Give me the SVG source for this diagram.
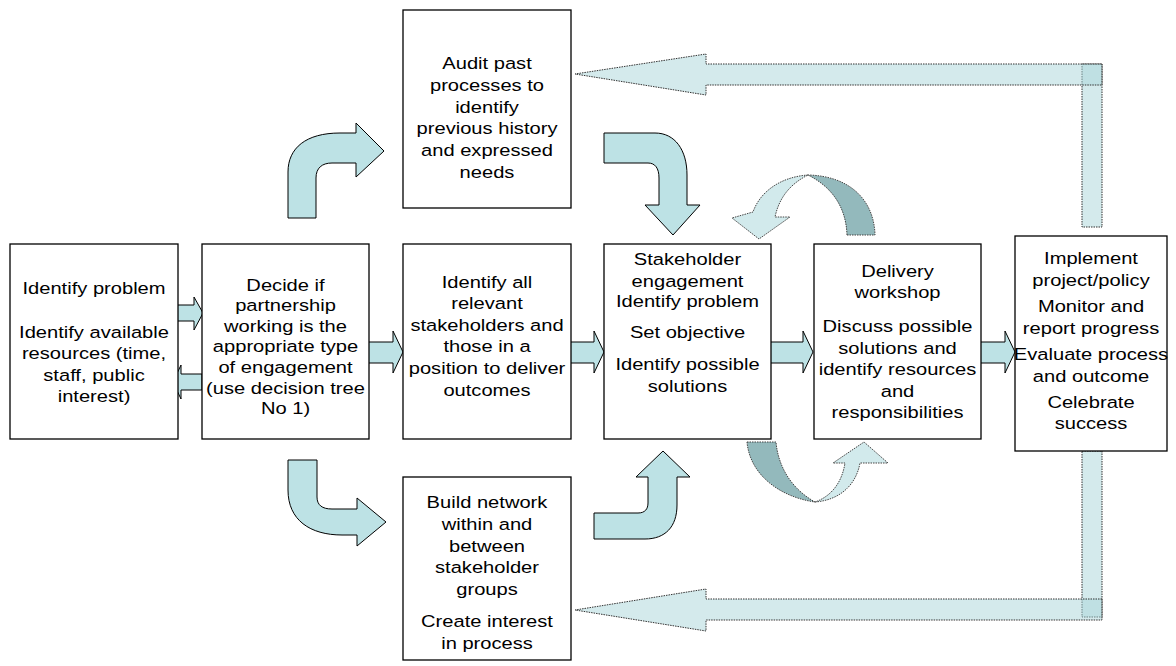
<svg xmlns="http://www.w3.org/2000/svg" width="1176" height="666" viewBox="0 0 1176 666">
<style>
.box{fill:#fff;stroke:#000;stroke-width:1.3}
.t{font-family:"Liberation Sans",Arial,sans-serif;font-size:16.5px;fill:#000;text-anchor:middle}
.arr{fill:#bde2e5;stroke:#000;stroke-width:1;stroke-linejoin:miter}
.long{fill:#a9d6da;fill-opacity:0.5;stroke:#333;stroke-width:1;stroke-dasharray:1.5 1}
.cl{fill:#d2eaec;stroke:#444;stroke-width:1;stroke-dasharray:1.5 1}
.cd{fill:#93b9bc;stroke:#444;stroke-width:1;stroke-dasharray:1.5 1}
</style>
<rect width="1176" height="666" fill="#fff"/>
<g id="connectors">
  <rect class="long" x="1082" y="64" width="20" height="163"/>
  <path class="long" d="M1102,64 L706,64 L706,54 L575,74 L706,95 L706,85 L1102,85 Z"/>
  <rect class="long" x="1082" y="451" width="20" height="166"/>
  <path class="long" d="M1102,599 L706,599 L706,589 L575,610 L706,631 L706,620 L1102,620 Z"/>
  <path class="arr" d="M288,218 L288,172 C288,148 306,133 340,133 L356,133 L356,123 L384,151 L356,177 L356,163 L332,163 C322,163 316,168 316,178 L316,218 Z"/>
  <path class="arr" d="M288,460 L317,460 L317,497 C317,505 322,509 332,509 L357,509 L357,498 L386,522 L357,546 L357,535 L342,535 C310,535 288,520 288,490 Z"/>
  <path class="arr" d="M604,133 L655,133 C675,133 687,150 687,175 L687,205 L700,205 L673,235 L645,205 L659,205 L659,178 C659,168 655,163 648,163 L604,163 Z"/>
  <path class="arr" d="M594,539 L645,539 C665,539 677,527 677,505 L677,477 L690,477 L663,451 L636,477 L648,477 L648,503 C648,509 645,513 638,513 L594,513 Z"/>
  <path class="arr" d="M173,305 L194,305 L194,297 L203,313 L194,330 L194,321 L173,321 Z"/>
  <path class="arr" d="M202,374 L181,374 L181,365 L173,382 L181,399 L181,390 L202,390 Z"/>
  <path class="arr" d="M364,342 L393,342 L393,331 L403,352 L393,373 L393,363 L364,363 Z"/>
  <path class="arr" d="M566,342 L594,342 L594,331 L604,352 L594,373 L594,363 L566,363 Z"/>
  <path class="arr" d="M766,342 L803,342 L803,331 L813,352 L803,373 L803,363 L766,363 Z"/>
  <path class="arr" d="M976,342 L1005,342 L1005,331 L1015,352 L1005,373 L1005,363 L976,363 Z"/>
  <path class="cd" d="M847,235 L875,235 C874,200 850,176 808,175 C830,186 846,205 847,235 Z"/>
  <path class="cl" d="M808,175 C780,177 760,192 753,212 L732,218 L759,239 L790,217 L775,217 C779,198 790,184 808,175 Z"/>
  <path class="cd" d="M747,442 L776,442 C778,465 790,488 815,502 C780,497 750,475 747,442 Z"/>
  <path class="cl" d="M815,502 C840,500 856,485 860,463 L888,463 L864,442 L833,463 L845,463 C842,482 832,496 815,502 Z"/>
</g>
<g id="n1"><rect class="box" x="10" y="244" width="168" height="195"/>
<text class="t" transform="translate(94 0) scale(1.22 1)"><tspan x="0" y="294">Identify problem</tspan><tspan x="0" y="338">Identify available</tspan><tspan x="0" y="359">resources (time,</tspan><tspan x="0" y="381">staff, public</tspan><tspan x="0" y="402">interest)</tspan></text></g>
<g id="n2"><rect class="box" x="202" y="244" width="167" height="195"/>
<text class="t" transform="translate(285.5 0) scale(1.22 1)"><tspan x="0" y="291">Decide if</tspan><tspan x="0" y="311">partnership</tspan><tspan x="0" y="332">working is the</tspan><tspan x="0" y="352">appropriate type</tspan><tspan x="0" y="373">of engagement</tspan><tspan x="0" y="394">(use decision tree</tspan><tspan x="0" y="414">No 1)</tspan></text></g>
<g id="n3"><rect class="box" x="403" y="244" width="168" height="195"/>
<text class="t" transform="translate(487 0) scale(1.22 1)"><tspan x="0" y="288">Identify all</tspan><tspan x="0" y="309">relevant</tspan><tspan x="0" y="331">stakeholders and</tspan><tspan x="0" y="352">those in a</tspan><tspan x="0" y="374">position to deliver</tspan><tspan x="0" y="396">outcomes</tspan></text></g>
<g id="n4"><rect class="box" x="604" y="244" width="167" height="195"/>
<text class="t" transform="translate(687.5 0) scale(1.22 1)"><tspan x="0" y="265">Stakeholder</tspan><tspan x="0" y="287">engagement</tspan><tspan x="0" y="307">Identify problem</tspan><tspan x="0" y="338">Set objective</tspan><tspan x="0" y="370">Identify possible</tspan><tspan x="0" y="392">solutions</tspan></text></g>
<g id="n5"><rect class="box" x="814" y="244" width="167" height="195"/>
<text class="t" transform="translate(897.5 0) scale(1.22 1)"><tspan x="0" y="277">Delivery</tspan><tspan x="0" y="298">workshop</tspan><tspan x="0" y="332">Discuss possible</tspan><tspan x="0" y="354">solutions and</tspan><tspan x="0" y="375">identify resources</tspan><tspan x="0" y="397">and</tspan><tspan x="0" y="418">responsibilities</tspan></text></g>
<g id="n6"><rect class="box" x="1015" y="236" width="152" height="215"/>
<text class="t" transform="translate(1091 0) scale(1.22 1)"><tspan x="0" y="264">Implement</tspan><tspan x="0" y="286">project/policy</tspan><tspan x="0" y="312">Monitor and</tspan><tspan x="0" y="334">report progress</tspan><tspan x="0" y="360">Evaluate process</tspan><tspan x="0" y="382">and outcome</tspan><tspan x="0" y="408">Celebrate</tspan><tspan x="0" y="429">success</tspan></text></g>
<g id="n7"><rect class="box" x="403" y="10" width="168" height="198"/>
<text class="t" transform="translate(487 0) scale(1.22 1)"><tspan x="0" y="69">Audit past</tspan><tspan x="0" y="91">processes to</tspan><tspan x="0" y="113">identify</tspan><tspan x="0" y="134">previous history</tspan><tspan x="0" y="156">and expressed</tspan><tspan x="0" y="178">needs</tspan></text></g>
<g id="n8"><rect class="box" x="403" y="477" width="168" height="183"/>
<text class="t" transform="translate(487 0) scale(1.22 1)"><tspan x="0" y="508">Build network</tspan><tspan x="0" y="530">within and</tspan><tspan x="0" y="552">between</tspan><tspan x="0" y="573">stakeholder</tspan><tspan x="0" y="595">groups</tspan><tspan x="0" y="627">Create interest</tspan><tspan x="0" y="649">in process</tspan></text></g>
</svg>
